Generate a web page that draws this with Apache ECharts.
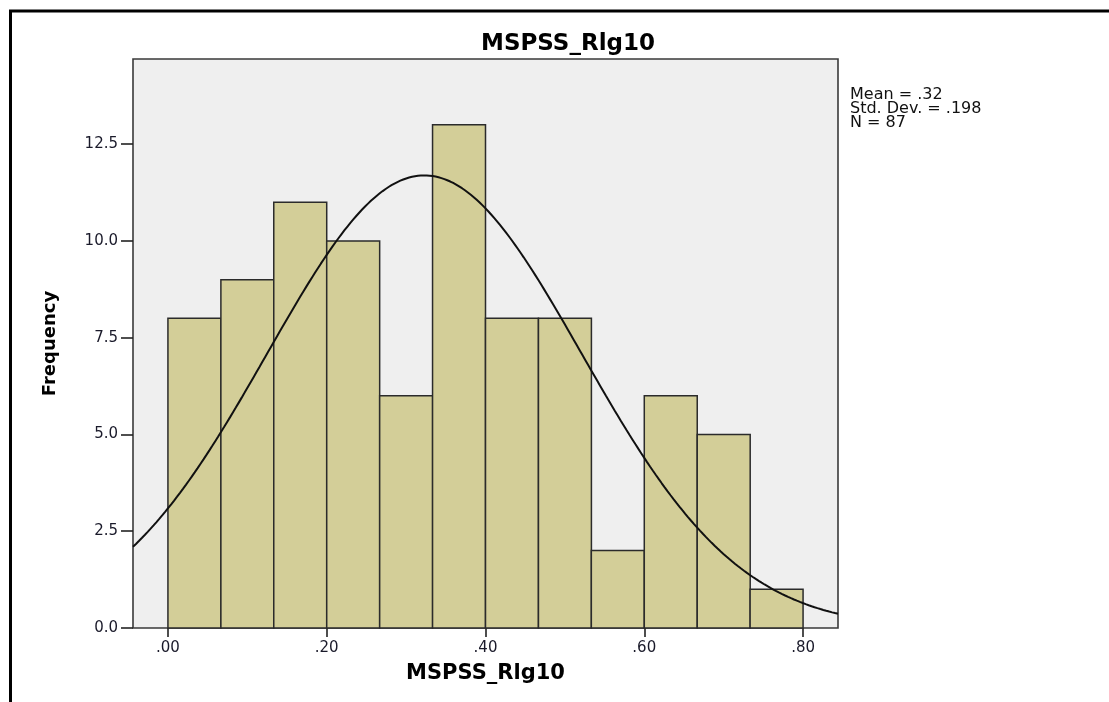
<!DOCTYPE html>
<html>
<head>
<meta charset="utf-8">
<script src="https://cdn.jsdelivr.net/npm/echarts@6/dist/echarts.min.js"></script>
<style>
  html, body { margin: 0; padding: 0; background: #fff; }
  #chart { width: 1109px; height: 702px; }
</style>
</head>
<body>
<div id="chart"></div>
<script>
// Histogram of MSPSS_Rlg10 with fitted normal curve
const binStarts = [0.0000, 0.0667, 0.1333, 0.2000, 0.2667, 0.3333, 0.4000, 0.4667, 0.5333, 0.6000, 0.6667, 0.7333];
const binWidth = 0.0667;
const frequencies = [8, 9, 11, 10, 6, 13, 8, 8, 2, 6, 5, 1];
const xTicks = [0, 0.2, 0.4, 0.6, 0.8];
const yTicks = [0, 2.5, 5, 7.5, 10, 12.5];
const statsLines = ['Mean = .32', 'Std. Dev. = .198', 'N = 87'];
const mean = 0.323;
const stdDev = 0.198;
const n = 87;

const xMin = -0.044, xMax = 0.844;
const yMin = 0, yMax = 14.7;

const barData = binStarts.map((s, i) => [s, s + binWidth, frequencies[i]]);

// normal density scaled to counts per bin
const curve = [];
const steps = 240;
for (let i = 0; i <= steps; i++) {
  const x = xMin + (xMax - xMin) * i / steps;
  const z = (x - mean) / stdDev;
  const y = n * binWidth / (stdDev * Math.sqrt(2 * Math.PI)) * Math.exp(-0.5 * z * z);
  curve.push([x, y]);
}

const FONT = 'DejaVu Sans';
const chart = echarts.init(document.getElementById('chart'), null, { renderer: 'canvas' });

chart.setOption({
  animation: false,
  backgroundColor: '#ffffff',
  title: {
    text: 'MSPSS_Rlg10',
    left: 563,
    textAlign: 'center',
    top: 28,
    textStyle: { fontFamily: FONT, fontWeight: 'bold', fontSize: 23, color: '#000' }
  },
  grid: {
    left: 133, right: 271, top: 59, bottom: 74,
    show: true, backgroundColor: '#efefef', borderColor: '#3a3a3a', borderWidth: 1.6
  },
  xAxis: {
    type: 'value', min: xMin, max: xMax,
    name: 'MSPSS_Rlg10', nameLocation: 'middle', nameGap: 35,
    nameTextStyle: { fontFamily: FONT, fontWeight: 'bold', fontSize: 21, color: '#000' },
    axisLine: { show: false, onZero: false },
    splitLine: { show: false },
    axisTick: { show: true, customValues: xTicks, length: 9, lineStyle: { color: '#222', width: 1.6 } },
    axisLabel: {
      customValues: xTicks, margin: 13,
      fontFamily: FONT, fontSize: 15, color: '#1a1a2a',
      formatter: v => v.toFixed(2).replace(/^0/, '')
    }
  },
  yAxis: {
    type: 'value', min: yMin, max: yMax,
    name: 'Frequency', nameLocation: 'middle', nameGap: 74, nameRotate: 90,
    nameTextStyle: { fontFamily: FONT, fontWeight: 'bold', fontSize: 18, color: '#000' },
    axisLine: { show: false, onZero: false },
    splitLine: { show: false },
    axisTick: { show: true, customValues: yTicks, length: 12, lineStyle: { color: '#222', width: 1.6 } },
    axisLabel: {
      customValues: yTicks, margin: 15,
      fontFamily: FONT, fontSize: 15, color: '#1a1a2a',
      formatter: v => v.toFixed(1)
    }
  },
  series: [
    {
      type: 'custom',
      data: barData,
      encode: { x: [0, 1], y: 2 },
      renderItem: (params, api) => {
        const p0 = api.coord([api.value(0), 0]);
        const p1 = api.coord([api.value(1), api.value(2)]);
        return {
          type: 'rect',
          shape: { x: p0[0], y: p1[1], width: p1[0] - p0[0], height: p0[1] - p1[1] },
          style: { fill: '#d3ce98', stroke: '#2b2b2b', lineWidth: 1.5 }
        };
      },
      z: 2
    },
    {
      type: 'line',
      data: curve,
      showSymbol: false,
      smooth: false,
      lineStyle: { color: '#111', width: 2 },
      z: 3
    }
  ],
  graphic: [
    {
      type: 'text', left: 850, top: 87,
      style: {
        text: statsLines.join('\n'), fontFamily: FONT, fontSize: 16, lineHeight: 14,
        fill: '#111'
      }
    },
    { type: 'line', shape: { x1: 9, y1: 11, x2: 1109, y2: 11 }, style: { stroke: '#000', lineWidth: 3 } },
    { type: 'line', shape: { x1: 10.5, y1: 10, x2: 10.5, y2: 702 }, style: { stroke: '#000', lineWidth: 3 } }
  ]
});
</script>
</body>
</html>
